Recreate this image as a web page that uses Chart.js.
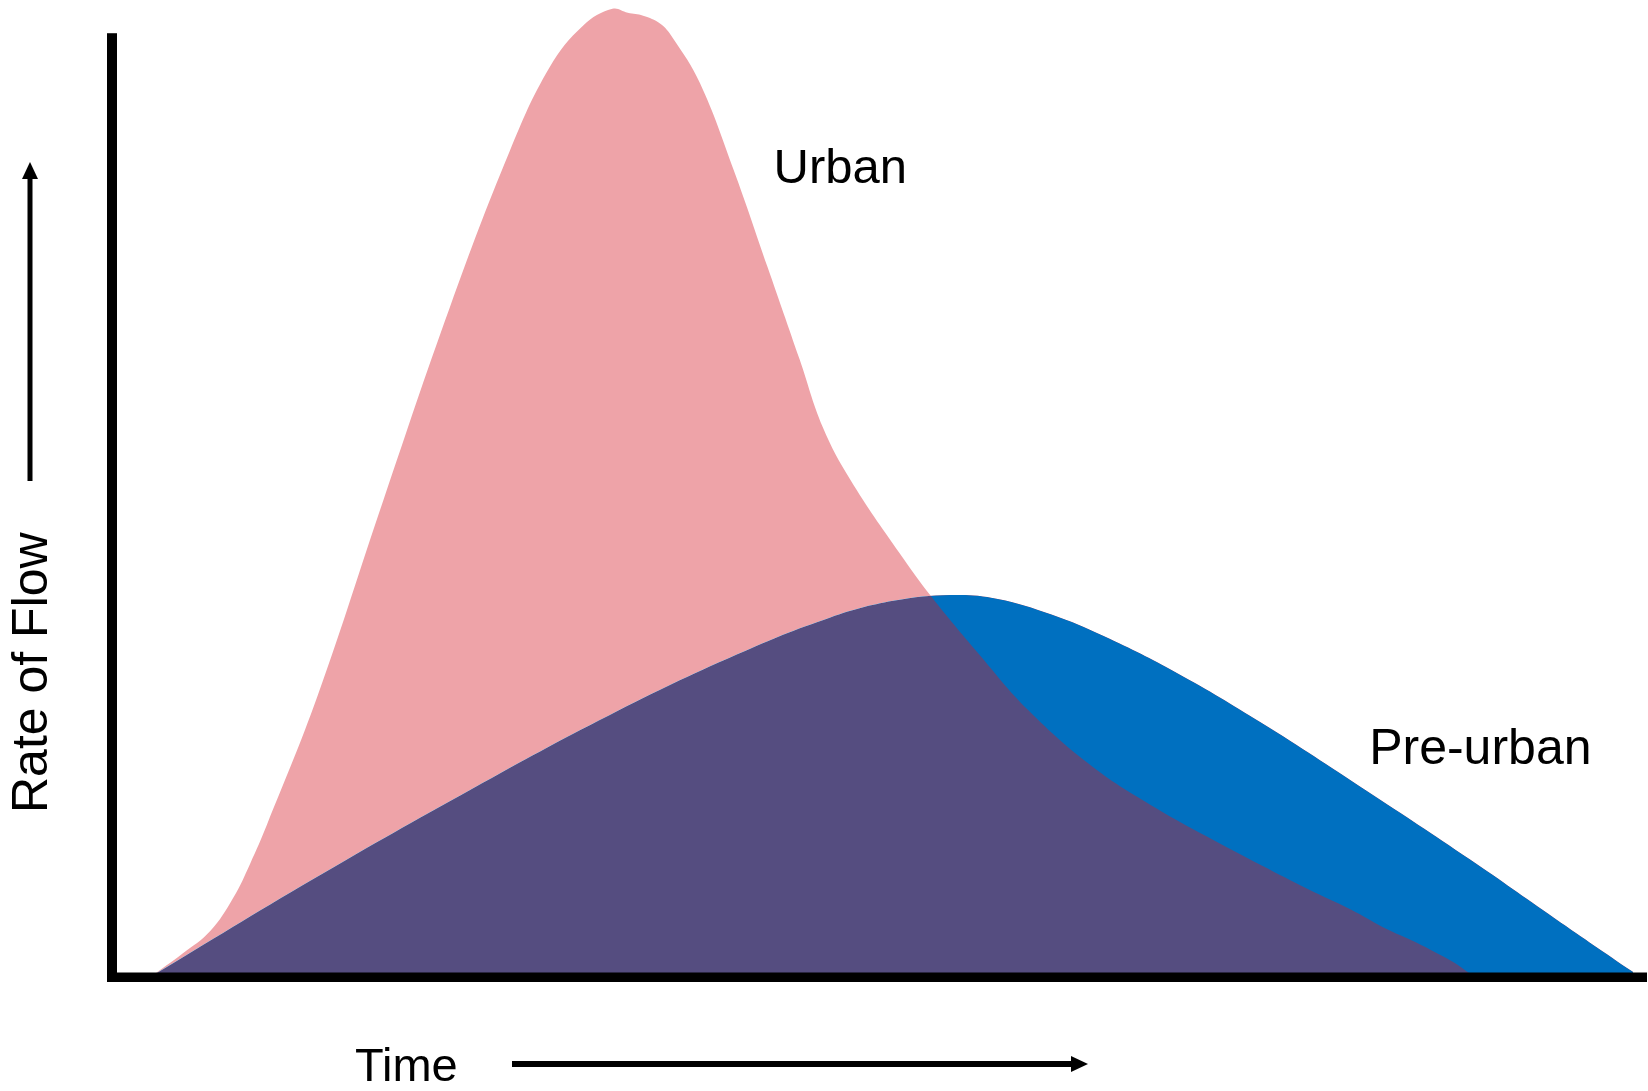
<!DOCTYPE html>
<html>
<head>
<meta charset="utf-8">
<script src="https://cdn.jsdelivr.net/npm/chart.js@4.4.1/dist/chart.umd.min.js"></script>
<style>
  html, body { margin: 0; padding: 0; background: #ffffff; }
  #wrap { position: relative; width: 1648px; height: 1091px; }
</style>
</head>
<body>
<div id="wrap"><canvas id="c"></canvas></div>
<script>
// ---- data (time units 0-100 along x, flow units 0-100 along y) ----
const urbanTime = [2.5, 4.6, 6.4, 7.9, 9.0, 10.1, 13.4, 17.7, 22.0, 25.9, 28.5, 30.7, 32.6, 33.6, 34.6, 35.7, 36.5, 38.3, 40.5, 42.7, 44.8, 46.3, 48.1, 51.3, 53.4, 56.4, 59.7, 63.9, 68.0, 71.3, 74.9, 77.9, 80.7, 82.8, 85.0, 87.2, 89.2, 94.0, 99.1];
const urbanFlow = [0, 2.4, 4.7, 8.1, 11.6, 15.6, 28.8, 48.9, 68.5, 84.5, 93.1, 97.4, 99.1, 98.7, 98.4, 97.6, 96.2, 91.5, 82.6, 72.7, 63.2, 56.3, 50.9, 43.4, 38.9, 33.2, 27.3, 21.5, 17.3, 14.4, 11.4, 9.0, 6.9, 5.1, 3.5, 1.7, 0, 0, 0];

const preUrbanTime = [2.5, 13.2, 23.5, 32.4, 40.7, 46.8, 50.9, 54.7, 57.7, 61.2, 64.6, 69.4, 74.9, 81.7, 88.5, 94.0, 99.1];
const preUrbanFlow = [0, 10.1, 19.3, 26.8, 33.0, 36.8, 38.5, 39.1, 38.7, 37.1, 34.9, 31.1, 26.0, 19.1, 12.0, 6.0, 0.5];

const seriesNames = ['Urban', 'Pre-urban'];
const axisTitles = ['Time', 'Rate of Flow'];

// ---- styling ----
const PINK = '#EEA3A8';
const BLUE = '#0070C0';
const OVERLAP = '#554D80';
const FONT = '"Liberation Sans", Arial, sans-serif';

const toPoints = (xs, ys) => xs.map((x, i) => ({ x: x, y: ys[i] }));

const decorPlugin = {
  id: 'decor',
  afterDatasetsDraw(chart) {
    const ctx = chart.ctx;
    const xs = chart.scales.x, ys = chart.scales.y;
    const x0 = xs.getPixelForValue(0), x1 = xs.getPixelForValue(100);
    const y0 = ys.getPixelForValue(0), yTop = ys.getPixelForValue(96.6);
    ctx.save();
    ctx.fillStyle = '#000';
    // y axis
    ctx.fillRect(x0 - 5, yTop, 10, y0 + 5 - yTop);
    // x axis
    ctx.fillRect(x0 - 5, y0 - 4.5, x1 - x0 + 5, 9.5);

    // series labels
    ctx.textBaseline = 'alphabetic';
    ctx.textAlign = 'left';
    ctx.font = '49px ' + FONT;
    ctx.fillText(seriesNames[0], xs.getPixelForValue(43.1), ys.getPixelForValue(81.3));
    ctx.font = '50px ' + FONT;
    ctx.fillText(seriesNames[1], xs.getPixelForValue(81.9), ys.getPixelForValue(21.8));

    // y axis title (rotated) and arrow
    ctx.save();
    ctx.translate(47, 813);
    ctx.rotate(-Math.PI / 2);
    ctx.font = '50px ' + FONT;
    ctx.fillText(axisTitles[1], 0, 0);
    ctx.restore();
    ctx.fillRect(27.5, 176, 5, 305);
    ctx.beginPath();
    ctx.moveTo(30, 162); ctx.lineTo(38, 179); ctx.lineTo(22, 179); ctx.closePath();
    ctx.fill();

    // x axis title and arrow
    ctx.font = '47px ' + FONT;
    ctx.fillText(axisTitles[0], 355, 1081);
    ctx.fillRect(512, 1061, 562, 6);
    ctx.beginPath();
    ctx.moveTo(1088, 1064); ctx.lineTo(1071, 1056); ctx.lineTo(1071, 1072); ctx.closePath();
    ctx.fill();
    ctx.restore();
  }
};

new Chart(document.getElementById('c'), {
  type: 'line',
  data: {
    datasets: [
      {
        label: seriesNames[0],
        data: toPoints(urbanTime, urbanFlow),
        backgroundColor: PINK,
        borderColor: 'rgba(0,0,0,0)',
        borderWidth: 0,
        pointRadius: 0,
        tension: 0.4,
        fill: { target: 1, above: PINK, below: BLUE },
        order: 0
      },
      {
        label: seriesNames[1],
        data: toPoints(preUrbanTime, preUrbanFlow),
        backgroundColor: OVERLAP,
        borderColor: 'rgba(0,0,0,0)',
        borderWidth: 0,
        pointRadius: 0,
        tension: 0.4,
        fill: 'origin',
        order: 1
      }
    ]
  },
  options: {
    responsive: true,
    maintainAspectRatio: false,
    animation: false,
    layout: { padding: { left: 112, right: 1, top: 0, bottom: 114 } },
    scales: {
      x: { type: 'linear', min: 0, max: 100, display: false },
      y: { type: 'linear', min: 0, max: 100, display: false }
    },
    plugins: {
      legend: { display: false },
      tooltip: { enabled: false },
      filler: { propagate: false }
    }
  },
  plugins: [decorPlugin]
});
</script>
</body>
</html>
